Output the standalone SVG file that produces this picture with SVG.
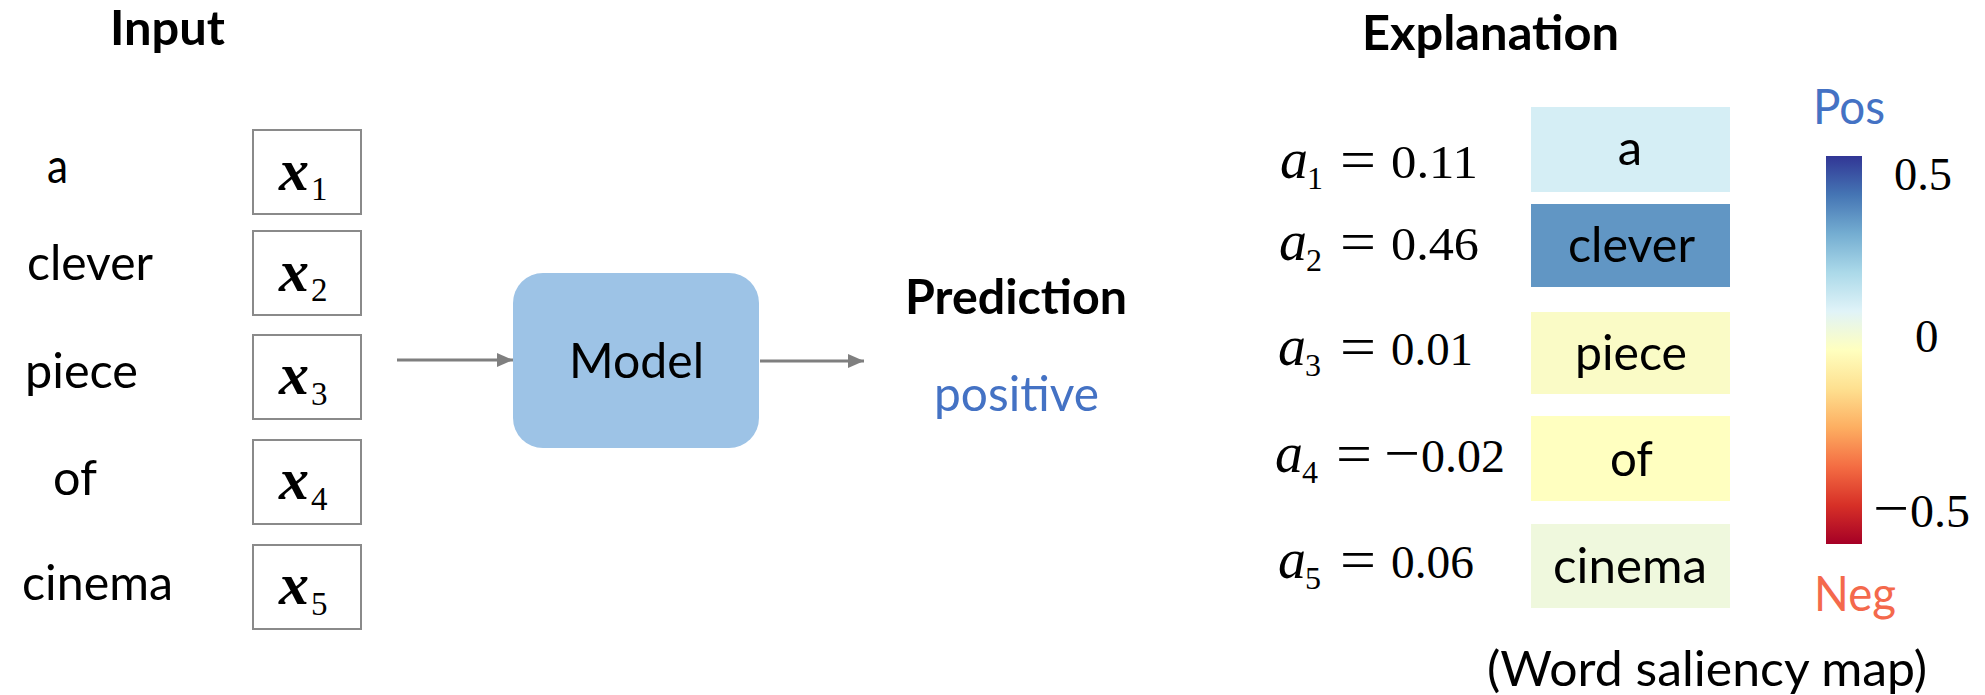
<svg xmlns="http://www.w3.org/2000/svg" width="1985" height="695" viewBox="0 0 1985 695">
  <style>
    .t { font-family: Lato, "Liberation Sans", sans-serif; font-size: 49px; fill: #000; }
    .h { font-weight: bold; font-size: 48px; }
    .blue { fill: #4472C4; }
    .red { fill: #F4694C; }
    .m { font-family: "Liberation Serif", "Times New Roman", serif; fill: #000; }
    .xv { font-size: 60px; font-style: italic; font-weight: bold; }
    .sub { font-size: 33px; }
    .av { font-size: 56px; font-style: italic; }
    .asub { font-size: 32px; }
    .num { font-size: 47px; }
    .eq { font-size: 56px; }
    .emb { fill: #fff; stroke: #8A8A8A; stroke-width: 2; }
    .conn { stroke: #7F7F7F; stroke-width: 3; fill: none; }
  </style>
  <defs>
    <marker id="arrow" viewBox="0 0 16 14" refX="16" refY="7" markerWidth="16" markerHeight="14" markerUnits="userSpaceOnUse" orient="auto">
      <path d="M0,0 L16,7 L0,14 Z" fill="#7F7F7F"/>
    </marker>
    <linearGradient id="rdylbu" x1="0" y1="0" x2="0" y2="1">
      <stop offset="0" stop-color="#313695"/>
      <stop offset="0.1" stop-color="#4575b4"/>
      <stop offset="0.2" stop-color="#74add1"/>
      <stop offset="0.3" stop-color="#abd9e9"/>
      <stop offset="0.4" stop-color="#e0f3f8"/>
      <stop offset="0.5" stop-color="#ffffbf"/>
      <stop offset="0.6" stop-color="#fee090"/>
      <stop offset="0.7" stop-color="#fdae61"/>
      <stop offset="0.8" stop-color="#f46d43"/>
      <stop offset="0.9" stop-color="#d73027"/>
      <stop offset="1" stop-color="#a50026"/>
    </linearGradient>
  </defs>

  <!-- Section headings -->
  <text class="t h" x="110" y="45" textLength="115" lengthAdjust="spacingAndGlyphs">Input</text>
  <text class="t h" x="1362" y="50" textLength="257" lengthAdjust="spacingAndGlyphs">Explanation</text>

  <!-- Input tokens -->
  <g id="tokens">
    <text class="t" x="47" y="183" textLength="21" lengthAdjust="spacingAndGlyphs">a</text>
    <text class="t" x="27" y="280" textLength="126" lengthAdjust="spacingAndGlyphs">clever</text>
    <text class="t" x="25" y="388" textLength="113" lengthAdjust="spacingAndGlyphs">piece</text>
    <text class="t" x="53" y="495" textLength="44" lengthAdjust="spacingAndGlyphs">of</text>
    <text class="t" x="22" y="600" textLength="151" lengthAdjust="spacingAndGlyphs">cinema</text>
  </g>

  <!-- Token embeddings -->
  <g id="emb1">
    <rect class="emb" x="253" y="130" width="108" height="84"/>
    <text class="m xv" x="279" y="190">x</text><text class="m sub" x="311" y="200">1</text>
  </g>
  <g id="emb2">
    <rect class="emb" x="253" y="231" width="108" height="84"/>
    <text class="m xv" x="279" y="291">x</text><text class="m sub" x="311" y="301">2</text>
  </g>
  <g id="emb3">
    <rect class="emb" x="253" y="335" width="108" height="84"/>
    <text class="m xv" x="279" y="394">x</text><text class="m sub" x="311" y="405">3</text>
  </g>
  <g id="emb4">
    <rect class="emb" x="253" y="440" width="108" height="84"/>
    <text class="m xv" x="279" y="499">x</text><text class="m sub" x="311" y="510">4</text>
  </g>
  <g id="emb5">
    <rect class="emb" x="253" y="545" width="108" height="84"/>
    <text class="m xv" x="279" y="604">x</text><text class="m sub" x="311" y="615">5</text>
  </g>

  <!-- Model -->
  <g id="model">
    <rect x="513" y="273" width="246" height="175" rx="30" ry="30" fill="#9DC3E6"/>
    <text class="t" x="569" y="378" textLength="135" lengthAdjust="spacingAndGlyphs">Model</text>
  </g>

  <!-- Prediction -->
  <g id="prediction">
    <text class="t h" x="905" y="314" textLength="222" lengthAdjust="spacingAndGlyphs">Prediction</text>
    <text class="t blue" x="934" y="411" textLength="165" lengthAdjust="spacingAndGlyphs">positive</text>
  </g>

  <!-- Connectors -->
  <g id="connectors">
    <line class="conn" x1="397" y1="360" x2="513" y2="360" marker-end="url(#arrow)"/>
    <line class="conn" x1="760" y1="361" x2="864" y2="361" marker-end="url(#arrow)"/>
  </g>

  <!-- Attribution scores -->
  <g id="score1">
    <text class="m av" x="1280" y="178">a</text><text class="m asub" x="1307" y="189">1</text>
    <text class="m eq" x="1340" y="179" textLength="36" lengthAdjust="spacingAndGlyphs">=</text>
    <text class="m num" x="1391" y="178" textLength="87" lengthAdjust="spacingAndGlyphs">0.11</text>
  </g>
  <g id="score2">
    <text class="m av" x="1279" y="260">a</text><text class="m asub" x="1306" y="271">2</text>
    <text class="m eq" x="1340" y="261" textLength="36" lengthAdjust="spacingAndGlyphs">=</text>
    <text class="m num" x="1391" y="260" textLength="88" lengthAdjust="spacingAndGlyphs">0.46</text>
  </g>
  <g id="score3">
    <text class="m av" x="1278" y="365">a</text><text class="m asub" x="1305" y="376">3</text>
    <text class="m eq" x="1340" y="366" textLength="36" lengthAdjust="spacingAndGlyphs">=</text>
    <text class="m num" x="1391" y="365" textLength="82" lengthAdjust="spacingAndGlyphs">0.01</text>
  </g>
  <g id="score4">
    <text class="m av" x="1275" y="472">a</text><text class="m asub" x="1302" y="483">4</text>
    <text class="m eq" x="1336" y="473" textLength="36" lengthAdjust="spacingAndGlyphs">=</text>
    <text class="m eq" x="1384" y="472" textLength="36" lengthAdjust="spacingAndGlyphs">−</text>
    <text class="m num" x="1421" y="472" textLength="84" lengthAdjust="spacingAndGlyphs">0.02</text>
  </g>
  <g id="score5">
    <text class="m av" x="1278" y="578">a</text><text class="m asub" x="1305" y="589">5</text>
    <text class="m eq" x="1340" y="579" textLength="36" lengthAdjust="spacingAndGlyphs">=</text>
    <text class="m num" x="1391" y="578" textLength="83" lengthAdjust="spacingAndGlyphs">0.06</text>
  </g>

  <!-- Word saliency map -->
  <g id="word1">
    <rect x="1531" y="107" width="199" height="85" fill="#D5EEF5"/>
    <text class="t" x="1630" y="165" text-anchor="middle">a</text>
  </g>
  <g id="word2">
    <rect x="1531" y="204" width="199" height="83" fill="#6196C4"/>
    <text class="t" x="1568" y="262" textLength="127" lengthAdjust="spacingAndGlyphs">clever</text>
  </g>
  <g id="word3">
    <rect x="1531" y="312" width="199" height="82" fill="#FAFBC6"/>
    <text class="t" x="1575" y="370" textLength="112" lengthAdjust="spacingAndGlyphs">piece</text>
  </g>
  <g id="word4">
    <rect x="1531" y="416" width="199" height="85" fill="#FFFFC0"/>
    <text class="t" x="1610" y="476" textLength="43" lengthAdjust="spacingAndGlyphs">of</text>
  </g>
  <g id="word5">
    <rect x="1531" y="524" width="199" height="84" fill="#EFF8DD"/>
    <text class="t" x="1553" y="583" textLength="154" lengthAdjust="spacingAndGlyphs">cinema</text>
  </g>

  <!-- Colour scale -->
  <g id="colorbar">
    <text class="t blue" x="1813" y="124" textLength="72" lengthAdjust="spacingAndGlyphs">Pos</text>
    <rect x="1826" y="156" width="36" height="388" fill="url(#rdylbu)"/>
    <text class="m num" x="1894" y="190" textLength="58" lengthAdjust="spacingAndGlyphs">0.5</text>
    <text class="m num" x="1915" y="352">0</text>
    <text class="m eq" x="1873" y="527" textLength="36" lengthAdjust="spacingAndGlyphs">−</text>
    <text class="m num" x="1910" y="527" textLength="60" lengthAdjust="spacingAndGlyphs">0.5</text>
    <text class="t red" x="1814" y="611" textLength="82" lengthAdjust="spacingAndGlyphs">Neg</text>
  </g>

  <text class="t" x="1487" y="686" textLength="440" lengthAdjust="spacingAndGlyphs">(Word saliency map)</text>
</svg>
